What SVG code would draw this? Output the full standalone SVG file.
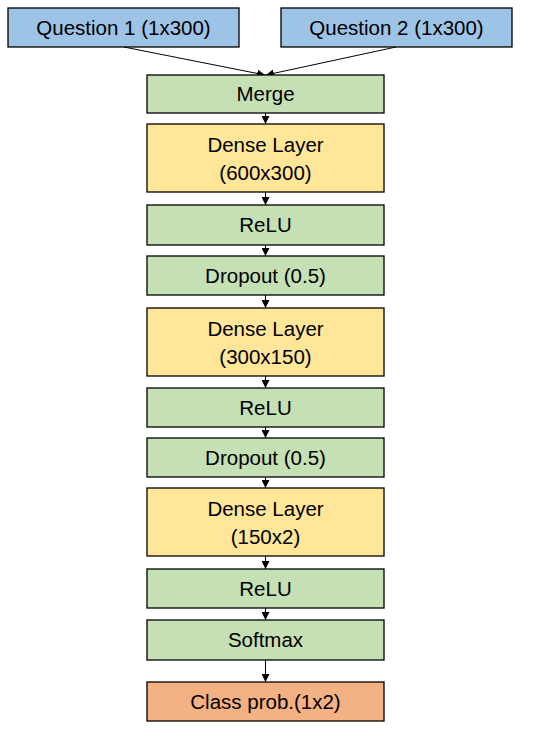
<svg xmlns="http://www.w3.org/2000/svg" width="536" height="740" viewBox="0 0 536 740">
<style>
rect{stroke:#000;stroke-width:1.3}
.b{fill:#9DC3E6}.g{fill:#C5E0B4}.y{fill:#FFE699}.o{fill:#F4B183}
text{font-family:"Liberation Sans",Arial,sans-serif;font-size:20.5px;fill:#000;text-anchor:middle}
.c line{stroke:#000;stroke-width:1;marker-end:url(#ah)}
</style>
<defs>
<marker id="ah" markerWidth="8" markerHeight="8" refX="8" refY="4" orient="auto" markerUnits="userSpaceOnUse">
<path d="M0,0 L8,4 L0,8 Z" fill="#000"/>
</marker>
</defs>
<rect width="536" height="740" fill="#fff" style="stroke:none"/>
<g class="c">
<line x1="124" y1="47" x2="265" y2="75"/>
<line x1="396" y1="47" x2="266" y2="75"/>
<line x1="265.5" y1="113" x2="265.5" y2="124"/>
<line x1="265.5" y1="192" x2="265.5" y2="205"/>
<line x1="265.5" y1="245" x2="265.5" y2="256"/>
<line x1="265.5" y1="295" x2="265.5" y2="308"/>
<line x1="265.5" y1="376" x2="265.5" y2="388"/>
<line x1="265.5" y1="427" x2="265.5" y2="438"/>
<line x1="265.5" y1="477" x2="265.5" y2="488"/>
<line x1="265.5" y1="556" x2="265.5" y2="569"/>
<line x1="265.5" y1="608" x2="265.5" y2="620"/>
<line x1="265.5" y1="660" x2="265.5" y2="682"/>
</g>
<g id="q1"><rect class="b" x="8" y="8" width="231" height="39"/><text x="123.5" y="35">Question 1 (1x300)</text></g>
<g id="q2"><rect class="b" x="281" y="8" width="231" height="39"/><text x="396.5" y="35">Question 2 (1x300)</text></g>
<g id="merge"><rect class="g" x="147" y="75" width="237" height="38"/><text x="265.5" y="101">Merge</text></g>
<g id="dense1"><rect class="y" x="147" y="124" width="237" height="68"/><text x="265.5" y="152">Dense Layer</text><text x="265.5" y="180">(600x300)</text></g>
<g id="relu1"><rect class="g" x="147" y="205" width="237" height="40"/><text x="265.5" y="232">ReLU</text></g>
<g id="drop1"><rect class="g" x="147" y="256" width="237" height="39"/><text x="265.5" y="283">Dropout (0.5)</text></g>
<g id="dense2"><rect class="y" x="147" y="308" width="237" height="68"/><text x="265.5" y="336">Dense Layer</text><text x="265.5" y="364">(300x150)</text></g>
<g id="relu2"><rect class="g" x="147" y="388" width="237" height="39"/><text x="265.5" y="415">ReLU</text></g>
<g id="drop2"><rect class="g" x="147" y="438" width="237" height="39"/><text x="265.5" y="465">Dropout (0.5)</text></g>
<g id="dense3"><rect class="y" x="147" y="488" width="237" height="68"/><text x="265.5" y="516">Dense Layer</text><text x="265.5" y="544">(150x2)</text></g>
<g id="relu3"><rect class="g" x="147" y="569" width="237" height="39"/><text x="265.5" y="596">ReLU</text></g>
<g id="softmax"><rect class="g" x="147" y="620" width="237" height="40"/><text x="265.5" y="647">Softmax</text></g>
<g id="class"><rect class="o" x="147" y="682" width="237" height="39"/><text x="265.5" y="709">Class prob.(1x2)</text></g>
</svg>
